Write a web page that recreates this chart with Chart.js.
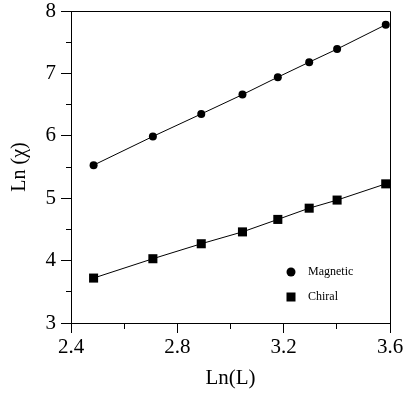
<!DOCTYPE html>
<html>
<head>
<meta charset="utf-8">
<script src="https://cdn.jsdelivr.net/npm/chart.js@4"></script>
<style>
html,body{margin:0;padding:0;background:#fff;}
#wrap{width:406px;height:394px;position:relative;}
</style>
</head>
<body>
<div id="wrap"><canvas id="c" width="406" height="394"></canvas></div>
<script>
const lnL = [2.485, 2.708, 2.890, 3.045, 3.178, 3.296, 3.401, 3.584];
const magnetic = [5.53, 5.99, 6.35, 6.66, 6.94, 7.18, 7.39, 7.78];
const chiral = [3.72, 4.03, 4.27, 4.46, 4.66, 4.84, 4.97, 5.23];
const seriesNames = ['Magnetic', 'Chiral'];
const xTitle = 'Ln(L)';
const yTitle = 'Ln (\u03C7)';

const SERIF = '"Liberation Serif", "Times New Roman", serif';

function pts(xs, ys){ return xs.map((x,i)=>({x:x, y:ys[i]})); }

const boxPlugin = {
  id: 'box',
  afterDraw(chart){
    const {ctx, chartArea:a} = chart;
    ctx.save();
    ctx.strokeStyle = '#000';
    ctx.lineWidth = 1;
    ctx.beginPath();
    ctx.moveTo(Math.round(a.left)+0.5, Math.round(a.top)+0.5);
    ctx.lineTo(Math.round(a.right)+0.5, Math.round(a.top)+0.5);
    ctx.lineTo(Math.round(a.right)+0.5, Math.round(a.bottom)+0.5);
    ctx.stroke();
    const items = chart.data.datasets;
    const lx = a.right - 99, ly0 = a.bottom - 51, gap = 25;
    ctx.font = '12px ' + SERIF;
    ctx.textBaseline = 'middle';
    ctx.textAlign = 'left';
    ctx.fillStyle = '#000';
    items.forEach((ds, i) => {
      const y = ly0 + i*gap;
      if (ds.pointStyle === 'rect') {
        ctx.fillRect(lx - 4.5, y - 4.5, 9, 9);
      } else {
        ctx.beginPath(); ctx.arc(lx, y, 4.5, 0, Math.PI*2); ctx.fill();
      }
      ctx.fillText(ds.label, lx + 17, y);
    });
    ctx.restore();
  }
};

new Chart(document.getElementById('c'), {
  type: 'scatter',
  data: {
    datasets: [
      { label: seriesNames[0], data: pts(lnL, magnetic), showLine: true, borderColor: '#000', borderWidth: 1,
        backgroundColor: '#000', pointStyle: 'circle', pointRadius: 4, pointBorderWidth: 0, tension: 0 },
      { label: seriesNames[1], data: pts(lnL, chiral), showLine: true, borderColor: '#000', borderWidth: 1,
        backgroundColor: '#000', pointStyle: 'rect', pointRadius: 6.4, pointBorderWidth: 0, tension: 0 }
    ]
  },
  options: {
    responsive: false,
    animation: false,
    devicePixelRatio: 1,
    layout: { padding: { top: 11, right: 16, left: 0, bottom: 0 } },
    plugins: { legend: { display: false }, tooltip: { enabled: false } },
    scales: {
      x: {
        type: 'linear', min: 2.4, max: 3.6,
        afterFit(s){ s.height = 71; s.paddingLeft = 0; s.paddingRight = 0; },
        border: { display: true, color: '#000', width: 1 },
        grid: {
          drawOnChartArea: false, drawTicks: true, tickLength: 10, tickWidth: 1, tickColor: '#000',
          tickBorderDash: (ctx) => (ctx.tick && Math.round(ctx.tick.value*10) % 4 !== 0) ? [5, 100] : [],
          tickBorderDashOffset: 0
        },
        ticks: {
          stepSize: 0.2, color: '#000', padding: 2, maxRotation: 0, autoSkip: false,
          font: { family: SERIF, size: 21 },
          callback: (v) => (Math.round(v*10) % 4 === 0) ? v.toFixed(1) : ''
        },
        title: { display: true, text: xTitle, color: '#000', font: { family: SERIF, size: 21 }, padding: { top: 0, bottom: 3 } }
      },
      y: {
        type: 'linear', min: 3, max: 8,
        afterFit(s){ s.width = 71; s.paddingTop = 0; s.paddingBottom = 0; },
        border: { display: true, color: '#000', width: 1 },
        grid: {
          drawOnChartArea: false, drawTicks: true, tickLength: 10, tickWidth: 1, tickColor: '#000',
          tickBorderDash: (ctx) => (ctx.tick && Math.round(ctx.tick.value*2) % 2 !== 0) ? [5, 5] : [],
          tickBorderDashOffset: (ctx) => (ctx.tick && Math.round(ctx.tick.value*2) % 2 !== 0) ? 5 : 0
        },
        ticks: {
          stepSize: 0.5, color: '#000', padding: 5, autoSkip: false,
          font: { family: SERIF, size: 21 },
          callback: (v) => (Math.round(v*2) % 2 === 0) ? String(Math.round(v)) : ''
        },
        title: { display: true, text: yTitle, color: '#000', font: { family: SERIF, size: 20 }, padding: { top: 8, bottom: 0 } }
      }
    }
  },
  plugins: [boxPlugin]
});
</script>
</body>
</html>
